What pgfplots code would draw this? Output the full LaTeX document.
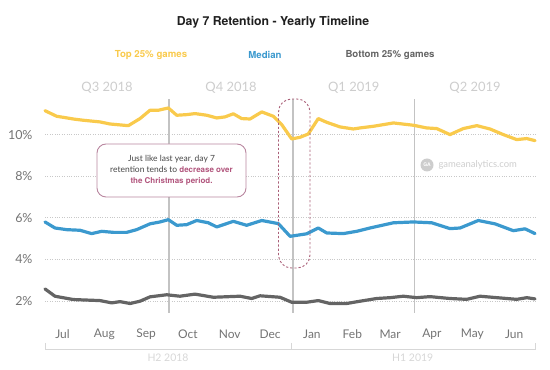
\documentclass[border=0pt]{standalone}
\usepackage{pgfplots}
\pgfplotsset{compat=1.18}
\usepackage{fontspec}
\setmainfont{Lato}
\newfontfamily\bff{TeX Gyre Heros}
\definecolor{topc}{RGB}{249,202,76}
\definecolor{medc}{RGB}{59,153,206}
\definecolor{botc}{RGB}{100,100,100}
\definecolor{gridc}{RGB}{200,200,200}
\definecolor{vlinec}{RGB}{195,195,195}
\definecolor{tickc}{RGB}{115,115,115}
\definecolor{quartc}{RGB}{205,205,205}
\definecolor{halfc}{RGB}{215,215,215}
\definecolor{boxc}{RGB}{185,135,160}
\definecolor{pinkc}{RGB}{178,85,125}
\definecolor{dashc}{RGB}{170,95,120}
\definecolor{wmc}{RGB}{205,205,205}
\definecolor{textc}{RGB}{70,70,70}
\tikzset{mlab/.style={text=tickc, font=\fontsize{12}{12}\selectfont},
         qlab/.style={text=quartc, font=\fontsize{13}{13}\selectfont},
         leg/.style={font=\bff\bfseries\fontsize{9.7}{9.7}\selectfont}}
\begin{document}
\begin{tikzpicture}
\path[use as bounding box] (0,0) rectangle (550bp,370bp);
\begin{axis}[
  at={(45bp,58.6bp)}, anchor=south west,
  scale only axis, width=490.7bp, height=208bp,
  xmin=0, xmax=364, ymin=1.5, ymax=11.5,
  clip=false,
  axis line style={draw=none},
  tick style={draw=none},
  xtick=\empty,
  ytick={2,4,6,8,10},
  yticklabel={\pgfmathprintnumber{\tick}\%},
  /pgf/number format/assume math mode=true,
  yticklabel style={font=\fontsize{12.5}{12.5}\selectfont, text=tickc, anchor=east, xshift=-9bp},
  ymajorgrids,
  grid style={dotted, gridc, line width=0.9bp},
  every axis plot/.append style={line width=3.2bp, line join=round, line cap=round, no markers},
]
% vertical quarter lines
\draw[vlinec, line width=1.6bp] (axis cs:92,1.44) -- (axis cs:92,11.73);
\draw[vlinec, line width=1.6bp] (axis cs:184,1.44) -- (axis cs:184,11.73);
\draw[vlinec, line width=1.6bp] (axis cs:274,1.44) -- (axis cs:274,11.73);

\addplot[topc] coordinates {
(0,11.15) (8.7,10.88) (13.6,10.83) (21,10.75) (28.4,10.69) (40.8,10.61)
(48.2,10.51) (61.8,10.43) (70.5,10.77) (77.9,11.17) (84,11.17) (91.5,11.28)
(97.7,10.93) (105.1,10.96) (111.3,11.01) (120,10.93) (127.4,10.80) (133.5,10.85)
(139.7,11.00) (145.9,10.77) (152.1,10.75) (160.8,11.09) (169.4,10.88) (175.6,10.48)
(183,9.79) (189.2,9.87) (195.3,10.03) (202.7,10.77) (209,10.59) (218.8,10.37)
(228.7,10.27) (233.7,10.32) (243.6,10.40) (258.4,10.56) (273.2,10.45) (283.2,10.32)
(290.6,10.29) (300.4,10.00) (310.3,10.29) (320.3,10.43) (330.1,10.27) (340,10.00)
(349.9,9.76) (357.4,9.81) (363.5,9.71)
};
\addplot[medc] coordinates {
(0,5.80) (7.4,5.51) (16.1,5.43) (26,5.40) (34.6,5.24) (42.1,5.35) (50.7,5.30)
(60.6,5.30) (68,5.43) (77.9,5.71) (85.3,5.80) (91.5,5.91) (97.7,5.64) (105.1,5.67)
(112.5,5.87) (121.2,5.76) (127.4,5.56) (139.7,5.83) (149.6,5.64) (160.8,5.87)
(173.1,5.72) (181.8,5.11) (194.1,5.23) (202.7,5.51) (209,5.27) (221.3,5.24)
(231.2,5.35) (241.1,5.51) (258.4,5.76) (273.2,5.80) (286.9,5.76) (300.4,5.48)
(307.9,5.51) (321.4,5.87) (333.8,5.71) (347.4,5.38) (356.1,5.47) (363.5,5.24)
};
\addplot[botc] coordinates {
(0,2.58) (7.4,2.23) (21,2.07) (40.8,2.02) (49.5,1.91) (55.6,1.97) (63.1,1.88)
(70.5,1.99) (77.9,2.20) (90.3,2.30) (100.1,2.23) (111.3,2.33) (124.9,2.18)
(144.7,2.23) (153.3,2.12) (159.5,2.25) (174.3,2.18) (183,1.94) (194.1,1.94)
(202.7,2.02) (211.4,1.88) (223.8,1.88) (233.7,1.99) (246.1,2.12) (255.9,2.16)
(265.8,2.23) (275.7,2.16) (285.6,2.21) (300.4,2.12) (312.8,2.08) (322.7,2.23)
(335.2,2.16) (349.9,2.08) (357.4,2.16) (363.5,2.10)
};

% month labels
\node[mlab] at (axis cs:13,0.42) {Jul};
\node[mlab] at (axis cs:44,0.42) {Aug};
\node[mlab] at (axis cs:75,0.42) {Sep};
\node[mlab] at (axis cs:106,0.42) {Oct};
\node[mlab] at (axis cs:137,0.42) {Nov};
\node[mlab] at (axis cs:167,0.42) {Dec};
\node[mlab] at (axis cs:198,0.42) {Jan};
\node[mlab] at (axis cs:228,0.42) {Feb};
\node[mlab] at (axis cs:256,0.42) {Mar};
\node[mlab] at (axis cs:287,0.42) {Apr};
\node[mlab] at (axis cs:317,0.42) {May};
\node[mlab] at (axis cs:348,0.42) {Jun};
% quarter labels
\node[qlab] at (axis cs:46,12.26) {Q3 2018};
\node[qlab] at (axis cs:138,12.26) {Q4 2018};
\node[qlab] at (axis cs:229,12.26) {Q1 2019};
\node[qlab] at (axis cs:319,12.26) {Q2 2019};
\end{axis}

% title and legend
\node[font=\bff\bfseries\fontsize{12.3}{12.3}\selectfont, text=black!88] at (273bp,348bp) {Day 7 Retention - Yearly Timeline};
\node[leg, text=topc] at (151bp,315bp) {Top 25\% games};
\node[leg, text=medc] at (265bp,315bp) {Median};
\node[leg, text=botc] at (390bp,315bp) {Bottom 25\% games};

% annotation box
\draw[boxc, line width=0.9bp, rounded corners=9bp, fill=white] (97bp,173bp) rectangle (246bp,226bp);
\node[align=center, text=textc, font=\fontsize{8.5}{11}\selectfont] at (171.5bp,199.5bp)
  {Just like last year, day 7\\retention tends to \textcolor{pinkc}{\bff\bfseries\fontsize{8}{11}\selectfont decrease over}\\\textcolor{pinkc}{\bff\bfseries\fontsize{8}{11}\selectfont the Christmas period.}};

% dashed highlight
\draw[dashc, line width=0.9bp, dash pattern=on 2.2bp off 2bp, rounded corners=13bp] (278.5bp,102bp) rectangle (310bp,271bp);

% watermark
\fill[wmc] (427bp,205bp) circle (6.5bp);
\node[text=white, font=\bff\bfseries\fontsize{5}{5}\selectfont] at (427bp,205bp) {GA};
\node[anchor=west, text=wmc, font=\fontsize{9.5}{9.5}\selectfont] at (435bp,205bp) {gameanalytics.com};

% half-year brackets
\draw[halfc, line width=0.9bp] (45bp,27bp) -- (45bp,21bp) -- (535bp,21bp) -- (535bp,27bp);
\draw[halfc, line width=0.9bp] (291.7bp,27bp) -- (291.7bp,21bp);
\node[text=halfc, font=\fontsize{10.5}{10.5}\selectfont] at (168bp,12.3bp) {H2 2018};
\node[text=halfc, font=\fontsize{10.5}{10.5}\selectfont] at (412.7bp,12.3bp) {H1 2019};
\end{tikzpicture}
\end{document}
